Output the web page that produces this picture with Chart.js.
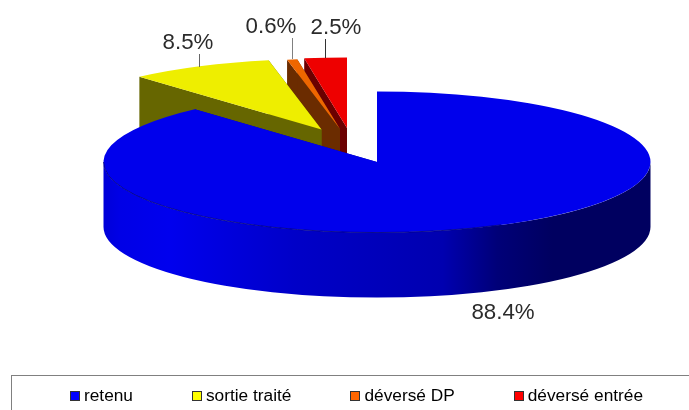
<!DOCTYPE html>
<html>
<head>
<meta charset="utf-8">
<style>html,body{margin:0;padding:0;background:#fff}canvas{display:block}</style>
<script src="https://cdn.jsdelivr.net/npm/chart.js@4"></script>
</head>
<body>
<canvas id="c" width="689" height="410"></canvas>
<script>
const categories = ['retenu', 'sortie traité', 'déversé DP', 'déversé entrée'];
const values = [88.4, 8.5, 0.6, 2.5];
const topColors = ['#0000EC', '#EEEE00', '#EE6600', '#EE0000'];
const wallColors = ['#0000A0', '#666600', '#6B2C00', '#6B0000'];
const swatchColors = ['#0000FF', '#FFFF00', '#FF6600', '#FF0000'];
const explodeX = [0, -55.5, -37, -30];
const explodeY = [0, -32.5, -33, -34];
const labelX = [503, 188, 271, 336];
const labelY = [319, 49, 33, 34];
const leaderX = [null, 199, 292, 325];
const leaderY0 = [null, 54, 38, 39];
const leaderY1 = [null, 67, 59, 58];
const leaderColors = [null, '#666666', '#808080', '#333333'];

const view = { cx: 377, cy: 162, radius: 273.5, squash: 0.258, depth: 65 };
let baseX = 0, baseY = 0;

const pie3d = {
  id: 'pie3d',
  afterLayout(chart) {
    const lg = chart.legend;
    lg.top = 395 - lg.options.labels.padding - lg.options.labels.font.size / 2 + 1;
  },
  afterDatasetsUpdate(chart) {
    const arcs = chart.getDatasetMeta(0).data;
    baseX = arcs[0].x; baseY = arcs[0].y;
    arcs.forEach((a, i) => {
      a.x = baseX + explodeX[i];
      a.y = baseY + explodeY[i] / view.squash;
    });
  },
  beforeDraw(chart) {
    const ctx = chart.ctx;
    ctx.save();
    ctx.fillStyle = '#fff';
    ctx.fillRect(0, 0, chart.width, chart.height);
    ctx.strokeStyle = '#808080';
    ctx.lineWidth = 1;
    ctx.strokeRect(11.5, 375.5, 720, 60);
    ctx.restore();
  },
  beforeDatasetsDraw(chart) {
    const ctx = chart.ctx;
    const arcs = chart.getDatasetMeta(0).data;
    const order = [3, 2, 1, 0];
    order.forEach(i => {
      const a = arcs[i];
      const sx = view.cx + (a.x - baseX);
      const sy = view.cy + (a.y - baseY) * view.squash;
      const R = a.outerRadius, ry = R * view.squash, d = view.depth;
      const pt = t => [sx + R * Math.cos(t), sy + ry * Math.sin(t)];
      ctx.save();
      ctx.fillStyle = wallColors[i];
      [a.startAngle, a.endAngle].forEach(t => {
        const p = pt(t);
        ctx.beginPath();
        ctx.moveTo(sx, sy);
        ctx.lineTo(p[0], p[1]);
        ctx.lineTo(p[0], p[1] + d);
        ctx.lineTo(sx, sy + d);
        ctx.closePath();
        ctx.fill();
      });
      const t0 = Math.max(a.startAngle, 0), t1 = Math.min(a.endAngle, Math.PI);
      if (t1 > t0) {
        const g = ctx.createLinearGradient(sx - R, 0, sx + R, 0);
        g.addColorStop(0, '#0000D8');
        g.addColorStop(0.03, '#0000E6');
        g.addColorStop(0.12, '#0000EE');
        g.addColorStop(0.35, '#0000C8');
        g.addColorStop(0.62, '#0000B0');
        g.addColorStop(0.72, '#000078');
        g.addColorStop(0.82, '#000060');
        g.addColorStop(1, '#000060');
        ctx.fillStyle = g;
        ctx.beginPath();
        ctx.ellipse(sx, sy, R, ry, 0, t0, t1);
        ctx.ellipse(sx, sy + d, R, ry, 0, t1, t0, true);
        ctx.closePath();
        ctx.fill();
      }
      ctx.restore();
      ctx.save();
      ctx.translate(view.cx, view.cy);
      ctx.scale(1, view.squash);
      ctx.translate(-baseX, -baseY);
      a.draw(ctx);
      ctx.restore();
      if (t1 > t0) {
        ctx.save();
        ctx.strokeStyle = 'rgba(0,0,120,0.8)';
        ctx.lineWidth = 1;
        ctx.beginPath();
        ctx.ellipse(sx, sy, R, ry, 0, t1, Math.PI * 0.35, true);
        ctx.stroke();
        ctx.restore();
      }
    });
    return false;
  },
  afterDraw(chart) {
    const ctx = chart.ctx;
    ctx.save();
    ctx.font = '22.3px "Liberation Sans"';
    ctx.fillStyle = '#2b2b2b';
    ctx.textAlign = 'center';
    ctx.textBaseline = 'alphabetic';
    values.forEach((v, i) => {
      ctx.fillText(v.toFixed(1) + '%', labelX[i], labelY[i]);
      if (leaderX[i] !== null) {
        ctx.strokeStyle = leaderColors[i];
        ctx.lineWidth = 1;
        ctx.beginPath();
        ctx.moveTo(leaderX[i] + 0.5, leaderY0[i]);
        ctx.lineTo(leaderX[i] + 0.5, leaderY1[i]);
        ctx.stroke();
      }
    });
    chart.legend.legendHitBoxes.forEach((b, i) => {
      ctx.fillStyle = swatchColors[i];
      ctx.strokeStyle = '#333333';
      ctx.lineWidth = 1;
      const x = Math.round(b.left) + 0.5, y = 391.5;
      ctx.fillRect(x, y, 9, 9);
      ctx.strokeRect(x, y, 9, 9);
    });
    ctx.restore();
  }
};

new Chart(document.getElementById('c'), {
  type: 'pie',
  data: {
    labels: categories,
    datasets: [{
      data: values,
      backgroundColor: topColors,
      borderWidth: 0,
      radius: view.radius
    }]
  },
  options: {
    responsive: false,
    animation: false,
    layout: { padding: { left: 0, right: -24 } },
    plugins: {
      tooltip: { enabled: false },
      title: { display: false },
      legend: {
        position: 'bottom',
        labels: {
          boxWidth: 5.35,
          boxHeight: 10,
          padding: 59,
          color: '#222222',
          font: { family: '"Liberation Sans"', size: 17.3 },
          generateLabels: () => categories.map((text, index) => ({
            text, index, hidden: false,
            fillStyle: 'rgba(0,0,0,0)',
            strokeStyle: 'rgba(0,0,0,0)',
            lineWidth: 0
          }))
        }
      }
    }
  },
  plugins: [pie3d]
});
</script>
</body>
</html>
